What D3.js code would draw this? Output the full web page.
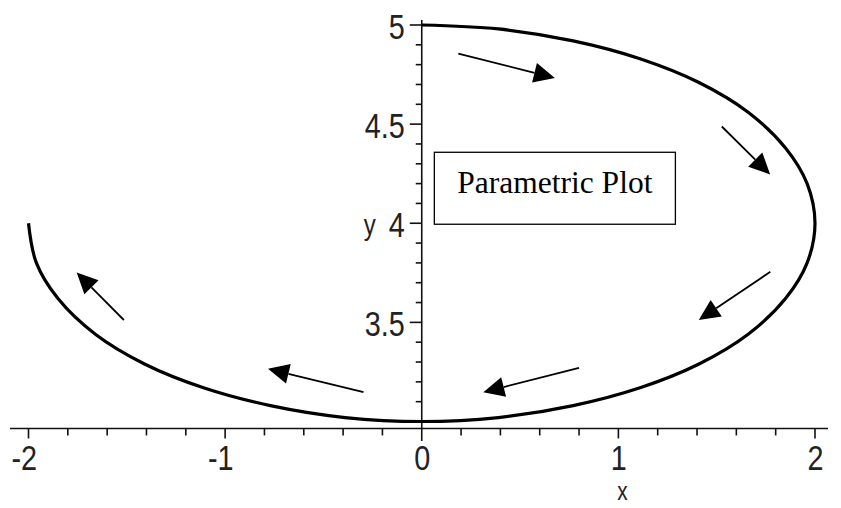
<!DOCTYPE html>
<html>
<head>
<meta charset="utf-8">
<script src="https://cdn.jsdelivr.net/npm/d3@7"></script>
<style>
  html, body { margin: 0; padding: 0; background: #fff; }
  svg { display: block; }
  .tick-label { font-family: "Liberation Sans", Arial, sans-serif; font-size: 36px; fill: #222; }
  .axis-name { font-family: "Liberation Sans", Arial, sans-serif; font-size: 28px; fill: #222; }
  .note { font-family: "Liberation Serif", "Times New Roman", serif; font-size: 31.5px; fill: #000; }
</style>
</head>
<body>
<svg id="chart" width="841" height="508"></svg>
<script>
// Parametric curve samples (x(t), y(t)), traced from t = 0 to 3π/2
const curveX = [0, 0.39, 0.77, 1.11, 1.41, 1.66, 1.85, 1.96, 2.0, 1.96, 1.85, 1.66, 1.41, 1.11, 0.77, 0.39, 0,
                -0.39, -0.77, -1.11, -1.41, -1.66, -1.85, -1.96, -2.0];
const curveY = [5.0, 4.98, 4.92, 4.83, 4.71, 4.56, 4.38, 4.20, 4.0, 3.80, 3.62, 3.44, 3.29, 3.17, 3.08, 3.02, 3.0,
                3.02, 3.08, 3.17, 3.29, 3.44, 3.62, 3.80, 4.0];

// Direction arrows drawn beside the curve (tail -> head)
const arrowFromX = [0.186, 1.526, 1.773, 0.800, -0.296, -1.515];
const arrowFromY = [4.856, 4.488, 3.755, 3.270, 3.148, 3.512];
const arrowToX   = [0.677, 1.772, 1.409, 0.313, -0.782, -1.755];
const arrowToY   = [4.733, 4.246, 3.512, 3.148, 3.266, 3.752];

// Axis ticks
const xMajorTicks = [-2, -1, 0, 1, 2];
const xMinorTicks = d3.range(-20, 21, 2).map(v => v / 10);
const yMajorTicks = [3.5, 4, 4.5, 5];
const yMinorTicks = d3.range(31, 51).map(v => v / 10);
const xAxisName = "x";
const yAxisName = "y";

// Annotation box
const noteText = "Parametric Plot";
const noteBox = { x0: 0.064, x1: 1.29, y0: 3.995, y1: 4.358 };

const svg = d3.select("#chart");
const x = d3.scaleLinear().domain([-2, 2]).range([28.5, 815]);
const y = d3.scaleLinear().domain([3, 5]).range([421.5, 25]);
const axisCrossY = 2.965;   // the horizontal axis sits slightly below y = 3
const squeeze = 0.8;        // narrow lettering for the axis text

const x0px = x(0);
const axisY = y(axisCrossY);

function narrowText(sel, px, py) {
  return sel.attr("x", 0).attr("y", 0)
    .attr("transform", (d, i) => `translate(${px(d, i)},${py(d, i)}) scale(${squeeze},1)`);
}

// Horizontal axis with ticks
const gx = svg.append("g").attr("transform", `translate(0,${axisY})`);
gx.append("line").attr("x1", 10).attr("x2", 828).attr("y1", 0).attr("y2", 0)
  .attr("stroke", "#111").attr("stroke-width", 1.6);
gx.selectAll("line.minor").data(xMinorTicks.filter(v => !xMajorTicks.includes(v))).join("line")
  .attr("class", "minor")
  .attr("x1", d => x(d)).attr("x2", d => x(d)).attr("y1", 0).attr("y2", 7)
  .attr("stroke", "#111").attr("stroke-width", 1.6);
gx.selectAll("line.major").data(xMajorTicks.filter(v => v !== 0)).join("line")
  .attr("class", "major")
  .attr("x1", d => x(d)).attr("x2", d => x(d)).attr("y1", 0).attr("y2", 10)
  .attr("stroke", "#111").attr("stroke-width", 1.6);
narrowText(
  gx.selectAll("text").data(xMajorTicks).join("text")
    .attr("class", "tick-label").attr("text-anchor", "end")
    .text(d => String(d)),
  d => x(d) + 8.5, () => 42);

// Vertical axis with ticks
const gy = svg.append("g").attr("transform", `translate(${x0px},0)`);
gy.append("line").attr("x1", 0).attr("x2", 0).attr("y1", 20).attr("y2", 441)
  .attr("stroke", "#111").attr("stroke-width", 1.6);
gy.selectAll("line.minor").data(yMinorTicks.filter(v => !yMajorTicks.includes(v))).join("line")
  .attr("class", "minor")
  .attr("x1", 0).attr("x2", -6).attr("y1", d => y(d)).attr("y2", d => y(d))
  .attr("stroke", "#111").attr("stroke-width", 1.6);
gy.selectAll("line.major").data(yMajorTicks).join("line")
  .attr("class", "major")
  .attr("x1", 0).attr("x2", -12).attr("y1", d => y(d)).attr("y2", d => y(d))
  .attr("stroke", "#111").attr("stroke-width", 1.6);
narrowText(
  gy.selectAll("text").data(yMajorTicks).join("text")
    .attr("class", "tick-label").attr("text-anchor", "end")
    .text(d => String(d)),
  () => -17, d => y(d) + 14);

// Axis names
narrowText(
  svg.append("text").datum(xAxisName).attr("class", "axis-name")
    .style("font-size", "26px")
    .attr("text-anchor", "middle").text(d => d),
  () => x(1) + 4, () => 500);
narrowText(
  svg.append("text").datum(yAxisName).attr("class", "axis-name")
    .style("font-size", "30px")
    .attr("text-anchor", "middle").text(d => d),
  () => x0px - 52, () => y(4) + 12);

// The curve
const pts = curveX.map((v, i) => [v, curveY[i]]);
const line = d3.line().x(d => x(d[0])).y(d => y(d[1])).curve(d3.curveCatmullRom.alpha(0.5));
svg.append("path").attr("d", line(pts))
  .attr("fill", "none").attr("stroke", "#000").attr("stroke-width", 3.2)
  .attr("stroke-linejoin", "round");

// Direction arrows
const headLen = 21, headHalf = 10;
arrowFromX.forEach((fx, i) => {
  const ax = x(fx), ay = y(arrowFromY[i]);
  const bx = x(arrowToX[i]), by = y(arrowToY[i]);
  const ang = Math.atan2(by - ay, bx - ax);
  const cx = bx - headLen * Math.cos(ang), cy = by - headLen * Math.sin(ang);
  svg.append("line").attr("x1", ax).attr("y1", ay).attr("x2", cx).attr("y2", cy)
    .attr("stroke", "#000").attr("stroke-width", 1.8);
  const nx = -Math.sin(ang), ny = Math.cos(ang);
  svg.append("polygon")
    .attr("points", [[bx, by], [cx + nx * headHalf, cy + ny * headHalf], [cx - nx * headHalf, cy - ny * headHalf]]
      .map(p => p.join(",")).join(" "))
    .attr("fill", "#000");
});

// Annotation box
svg.append("rect")
  .attr("x", x(noteBox.x0)).attr("y", y(noteBox.y1))
  .attr("width", x(noteBox.x1) - x(noteBox.x0)).attr("height", y(noteBox.y0) - y(noteBox.y1))
  .attr("fill", "#fff").attr("stroke", "#000").attr("stroke-width", 1.3);
svg.append("text").attr("class", "note")
  .attr("x", (x(noteBox.x0) + x(noteBox.x1)) / 2).attr("y", 192.7)
  .attr("text-anchor", "middle").text(noteText);
</script>
</body>
</html>
